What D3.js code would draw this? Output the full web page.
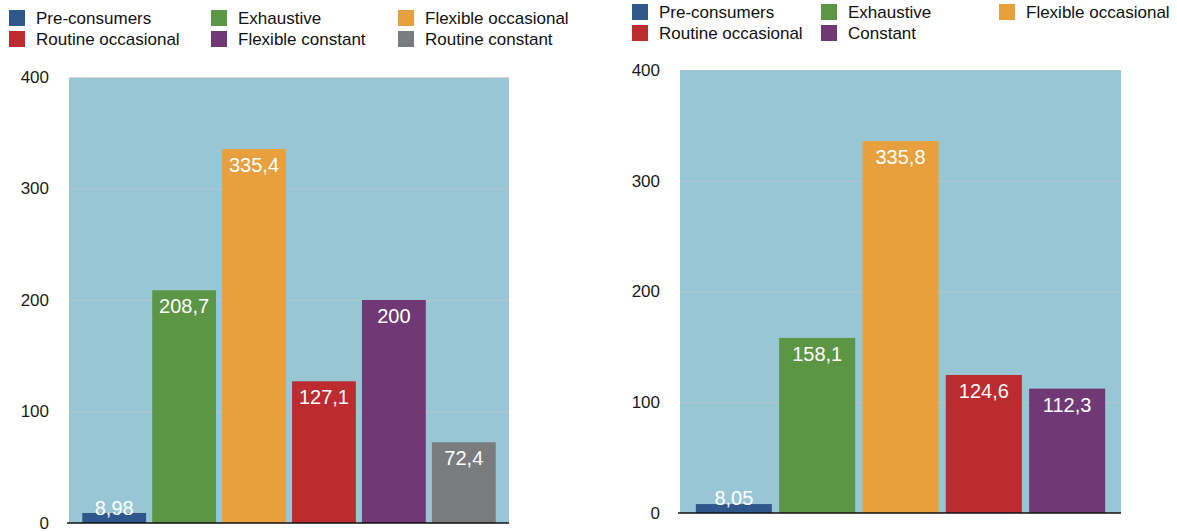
<!DOCTYPE html>
<html>
<head>
<meta charset="utf-8">
<script src="https://cdn.jsdelivr.net/npm/d3@7"></script>
<style>
  html, body { margin: 0; padding: 0; background: #ffffff; }
  svg { display: block; font-family: "Liberation Sans", Arial, Helvetica, sans-serif; }
</style>
</head>
<body>
<svg id="chart" width="1177" height="532"></svg>
<script>
// Left panel: six consumer profiles
const leftCategories = ["Pre-consumers", "Exhaustive", "Flexible occasional",
                        "Routine occasional", "Flexible constant", "Routine constant"];
const leftValues = [8.98, 208.7, 335.4, 127.1, 200, 72.4];
const leftColors = ["#2e578b", "#5c9645", "#e8a03e", "#bc2b30", "#713876", "#797b7c"];

// Right panel: five consumer profiles
const rightCategories = ["Pre-consumers", "Exhaustive", "Flexible occasional",
                         "Routine occasional", "Constant"];
const rightValues = [8.05, 158.1, 335.8, 124.6, 112.3];
const rightColors = ["#2e578b", "#5c9645", "#e8a03e", "#bc2b30", "#713876"];

const yTicks = [0, 100, 200, 300, 400];
const yMax = 400;

const svg = d3.select("#chart");
const fmt = v => String(v).replace(".", ",");

function drawPanel(cfg) {
  const g = svg.append("g");
  const x = d3.scaleBand()
    .domain(cfg.categories)
    .range([cfg.left, cfg.right])
    .paddingInner(0.087)
    .paddingOuter(0.19);
  const y = d3.scaleLinear().domain([0, yMax]).range([cfg.bottom, cfg.top]);

  // plot background
  g.append("rect")
    .attr("x", cfg.left).attr("y", cfg.top)
    .attr("width", cfg.right - cfg.left).attr("height", cfg.bottom - cfg.top)
    .attr("fill", "#98c6d5");

  // horizontal grid
  g.selectAll("line.grid")
    .data(yTicks.filter(t => t > 0 && (t < yMax || cfg.topLine)))
    .join("line")
    .attr("class", "grid")
    .attr("x1", cfg.left).attr("x2", cfg.right)
    .attr("y1", d => y(d) + 0.5).attr("y2", d => y(d) + 0.5)
    .attr("stroke", t => t === yMax ? "#d6d6d0" : "#b6c5cb")
    .attr("stroke-width", 1);

  // y axis labels
  const axis = d3.axisLeft(y).tickValues(yTicks).tickSize(0).tickPadding(20);
  const ag = g.append("g")
    .attr("transform", `translate(${cfg.left},0)`)
    .call(axis);
  ag.select(".domain").remove();
  ag.selectAll("text")
    .attr("font-size", 17)
    .attr("fill", "#1a1a1a")
    .attr("font-family", "\"Liberation Sans\", Arial, sans-serif");

  const data = cfg.categories.map((c, i) => ({ c, v: cfg.values[i], col: cfg.colors[i] }));

  // bars
  g.selectAll("rect.bar")
    .data(data)
    .join("rect")
    .attr("class", "bar")
    .attr("x", d => x(d.c))
    .attr("width", x.bandwidth())
    .attr("y", d => y(d.v))
    .attr("height", d => y(0) - y(d.v))
    .attr("fill", d => d.col);

  // value labels
  g.selectAll("text.val")
    .data(data)
    .join("text")
    .attr("class", "val")
    .attr("x", d => x(d.c) + x.bandwidth() / 2)
    .attr("y", d => Math.min(y(d.v) + 23, y(0) - 8))
    .attr("text-anchor", "middle")
    .attr("font-size", 20)
    .attr("fill", "#ffffff")
    .text(d => fmt(d.v));

  // baseline
  g.append("line")
    .attr("x1", cfg.left - 2).attr("x2", cfg.right)
    .attr("y1", y(0)).attr("y2", y(0))
    .attr("stroke", "#111111")
    .attr("stroke-width", 1.6);

  // legend, three columns, row-major
  const lg = g.append("g");
  const items = lg.selectAll("g.item")
    .data(data)
    .join("g")
    .attr("class", "item")
    .attr("transform", (d, i) =>
      `translate(${cfg.legendCols[i % 3]},${cfg.legendTop + Math.floor(i / 3) * cfg.legendRow})`);
  items.append("rect")
    .attr("width", cfg.swatch).attr("height", cfg.swatch)
    .attr("fill", d => d.col);
  items.append("text")
    .attr("x", cfg.swatch + 11)
    .attr("y", cfg.swatch / 2)
    .attr("dy", "0.35em")
    .attr("font-size", 17)
    .attr("fill", "#111111")
    .text(d => d.c);
}

drawPanel({
  categories: leftCategories, values: leftValues, colors: leftColors,
  left: 69, right: 509, top: 77, bottom: 523, topLine: true,
  legendCols: [9, 211, 398], legendTop: 10, legendRow: 21, swatch: 16
});

drawPanel({
  categories: rightCategories, values: rightValues, colors: rightColors,
  left: 680, right: 1121, top: 70, bottom: 513, topLine: false,
  legendCols: [632, 821, 999], legendTop: 4, legendRow: 21, swatch: 16
});
</script>
</body>
</html>
